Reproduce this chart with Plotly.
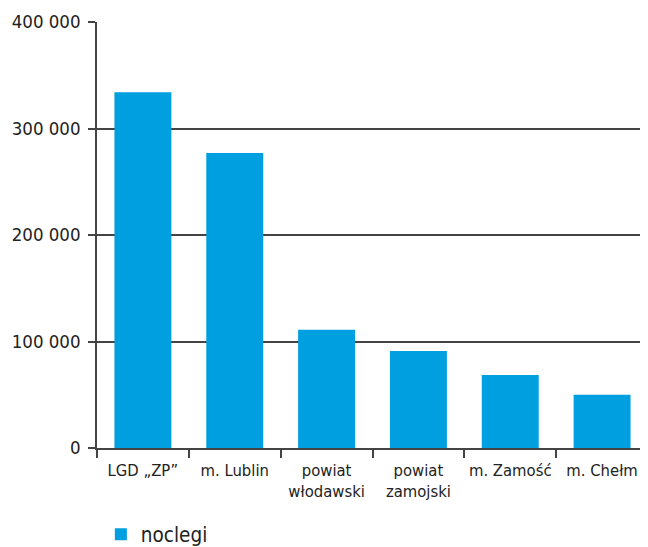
import plotly.graph_objects as go

categories = ["LGD „ZP”", "m. Lublin", "powiat<br>włodawski", "powiat<br>zamojski", "m. Zamość", "m. Chełm"]
noclegi = [334000, 277000, 111000, 91000, 68500, 50000]
y_ticks = [0, 100000, 200000, 300000, 400000]

FONT = "DejaVu Sans Condensed"
LINE = "#444444"

fig = go.Figure()
fig.add_trace(go.Bar(
    x=categories, y=noclegi, name="noclegi",
    marker=dict(color="#009fdf", line=dict(width=0)),
))

# the page body has an 8px margin: size the figure so it ends at the window's edges
fig.update_layout(
    width=640, height=539,
    margin=dict(l=89, r=0, t=14, b=99, autoexpand=False),
    paper_bgcolor="white", plot_bgcolor="white",
    separators=", ",
    bargap=0.38,
    font=dict(family=FONT, color="#222222"),
    showlegend=True,
    legend=dict(orientation="h", x=0.007, xanchor="left", y=-0.203, yanchor="middle",
                font=dict(size=20.5, family=FONT, color="#222222")),
    xaxis=dict(type="category", showline=True, linecolor=LINE, linewidth=1.5,
               ticks="outside", tickson="boundaries", ticklen=8, tickcolor=LINE, tickwidth=1.5,
               tickangle=0, automargin=False, ticklabelstandoff=6,
               tickfont=dict(size=16.5, family=FONT, color="#222222"), showgrid=False),
    yaxis=dict(range=[0, 400000], tickvals=y_ticks, tickformat=",d",
               showline=True, linecolor=LINE, linewidth=1.5, automargin=False,
               ticks="outside", ticklen=7, tickcolor=LINE, tickwidth=1.5,
               showgrid=True, gridcolor=LINE, gridwidth=1.5, zeroline=False,
               tickfont=dict(size=18.5, family=FONT, color="#222222"), ticklabelstandoff=4),
)

fig.write_html("out.html")
